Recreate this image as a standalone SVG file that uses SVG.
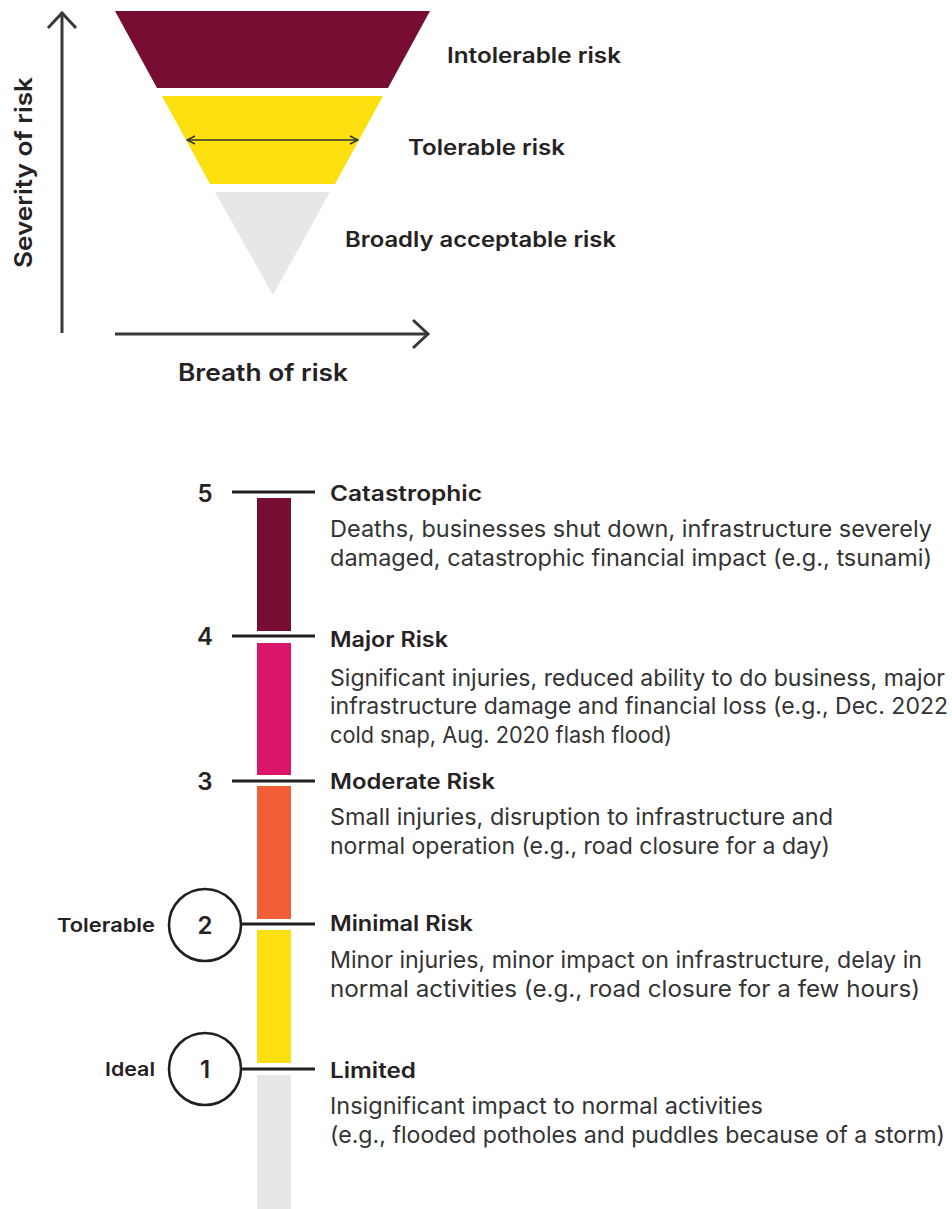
<svg xmlns="http://www.w3.org/2000/svg" width="952" height="1209" viewBox="0 0 952 1209">
<style>
.b{font-family:Inter,"Liberation Sans",sans-serif;font-weight:600;fill:#262224}
.t{font-family:Inter,"Liberation Sans",sans-serif;font-weight:400;fill:#333;font-size:23px}
.n{font-family:Inter,"Liberation Sans",sans-serif;font-weight:600;fill:#262224;font-size:24px;text-anchor:middle}
.ax{stroke:#383838;stroke-width:3;fill:none}
.tick{stroke:#231F20;stroke-width:3;fill:none}
.circ{stroke:#231F20;stroke-width:2.6;fill:#fff}
</style>
<defs>
<marker id="ah" viewBox="0 0 10 10" refX="9" refY="5" markerWidth="10" markerHeight="10" markerUnits="userSpaceOnUse" orient="auto-start-reverse">
<path d="M1,1 L9,5 L1,9" fill="none" stroke="#333" stroke-width="1.4"/>
</marker>
</defs>
<rect width="952" height="1209" fill="#fff"/>
<g id="pyramid">
<polygon points="115,11 430,11 388,88 157,88" fill="#770D33"/>
<polygon points="162,96 383,96 335,184 210,184" fill="#FCDF0E"/>
<polygon points="215,192 330,192 273,295" fill="#E6E7E6"/>
</g>
<g id="connectors">
<line x1="187" y1="140" x2="358" y2="140" stroke="#333" stroke-width="1.4" marker-start="url(#ah)" marker-end="url(#ah)"/>
<line class="ax" x1="62" y1="333" x2="62" y2="13"/>
<polyline class="ax" points="48,28 62,13 76,28"/>
<line class="ax" x1="115" y1="334" x2="428" y2="334"/>
<polyline class="ax" points="413,320 428,334 413,348"/>
</g>
<g id="labels-top">
<text class="b" x="447" y="63" font-size="21" textLength="174" lengthAdjust="spacingAndGlyphs">Intolerable risk</text>
<text class="b" x="408" y="155" font-size="21" textLength="157" lengthAdjust="spacingAndGlyphs">Tolerable risk</text>
<text class="b" x="345" y="247" font-size="21" textLength="271" lengthAdjust="spacingAndGlyphs">Broadly acceptable risk</text>
<text class="b" x="178" y="381" font-size="24" textLength="170" lengthAdjust="spacingAndGlyphs">Breath of risk</text>
<text class="b" transform="translate(32,268) rotate(-90)" x="0" y="0" font-size="24" textLength="191" lengthAdjust="spacingAndGlyphs">Severity of risk</text>
</g>
<g id="scale">
<rect x="257" y="498" width="34" height="133" fill="#770D33"/>
<rect x="257" y="643" width="34" height="132" fill="#D9166A"/>
<rect x="257" y="786" width="34" height="133" fill="#F15E38"/>
<rect x="257" y="930" width="34" height="133" fill="#FCDF0E"/>
<rect x="257" y="1075" width="34" height="134" fill="#E6E7E6"/>
</g>
<g id="level5">
<line class="tick" x1="232" y1="492" x2="315" y2="492"/>
<text class="n" x="205" y="502">5</text>
<text class="b" x="330" y="501" font-size="21" textLength="152" lengthAdjust="spacingAndGlyphs">Catastrophic</text>
<text class="t" x="330" y="537" textLength="602" lengthAdjust="spacingAndGlyphs">Deaths, businesses shut down, infrastructure severely</text>
<text class="t" x="330" y="566" textLength="602" lengthAdjust="spacingAndGlyphs">damaged, catastrophic financial impact (e.g., tsunami)</text>
</g>
<g id="level4">
<line class="tick" x1="232" y1="636" x2="315" y2="636"/>
<text class="n" x="205" y="645">4</text>
<text class="b" x="330" y="647" font-size="21" textLength="118" lengthAdjust="spacingAndGlyphs">Major Risk</text>
<text class="t" x="330" y="686" textLength="615" lengthAdjust="spacingAndGlyphs">Significant injuries, reduced ability to do business, major</text>
<text class="t" x="330" y="714" textLength="618" lengthAdjust="spacingAndGlyphs">infrastructure damage and financial loss (e.g., Dec. 2022</text>
<text class="t" x="330" y="743" textLength="342" lengthAdjust="spacingAndGlyphs">cold snap, Aug. 2020 flash flood)</text>
</g>
<g id="level3">
<line class="tick" x1="232" y1="781" x2="315" y2="781"/>
<text class="n" x="205" y="790">3</text>
<text class="b" x="330" y="789" font-size="21" textLength="165" lengthAdjust="spacingAndGlyphs">Moderate Risk</text>
<text class="t" x="330" y="825" textLength="503" lengthAdjust="spacingAndGlyphs">Small injuries, disruption to infrastructure and</text>
<text class="t" x="330" y="854" textLength="500" lengthAdjust="spacingAndGlyphs">normal operation (e.g., road closure for a day)</text>
</g>
<g id="level2">
<line class="tick" x1="241" y1="924" x2="315" y2="924"/>
<circle class="circ" cx="205" cy="925" r="36"/>
<text class="n" x="205" y="934">2</text>
<text class="b" x="155" y="932" font-size="19" text-anchor="end" textLength="98" lengthAdjust="spacingAndGlyphs">Tolerable</text>
<text class="b" x="330" y="931" font-size="21" textLength="143" lengthAdjust="spacingAndGlyphs">Minimal Risk</text>
<text class="t" x="330" y="968" textLength="592" lengthAdjust="spacingAndGlyphs">Minor injuries, minor impact on infrastructure, delay in</text>
<text class="t" x="330" y="997" textLength="590" lengthAdjust="spacingAndGlyphs">normal activities (e.g., road closure for a few hours)</text>
</g>
<g id="level1">
<line class="tick" x1="241" y1="1069" x2="315" y2="1069"/>
<circle class="circ" cx="205" cy="1069" r="36"/>
<text class="n" x="205" y="1078">1</text>
<text class="b" x="155" y="1076" font-size="19" text-anchor="end" textLength="50" lengthAdjust="spacingAndGlyphs">Ideal</text>
<text class="b" x="330" y="1078" font-size="21" textLength="86" lengthAdjust="spacingAndGlyphs">Limited</text>
<text class="t" x="330" y="1114" textLength="433" lengthAdjust="spacingAndGlyphs">Insignificant impact to normal activities</text>
<text class="t" x="330" y="1143" textLength="615" lengthAdjust="spacingAndGlyphs">(e.g., flooded potholes and puddles because of a storm)</text>
</g>
</svg>
